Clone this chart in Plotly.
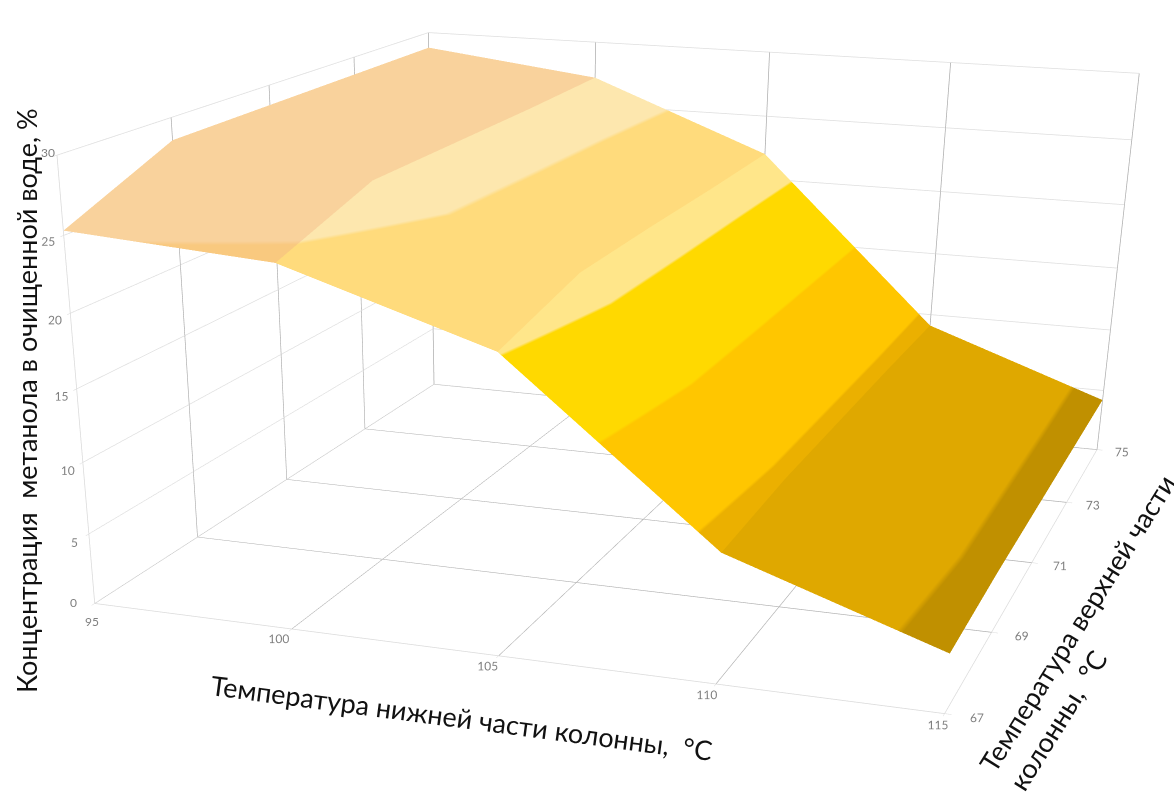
import plotly.graph_objects as go

# Column bottom temperature (x), column top temperature (y), methanol concentration (z)
bottom_temp = [95, 100, 105, 110, 115]
top_temp = [67, 69, 71, 73, 75]
row_67 = [25.3, 24.4, 20.1, 8.8, 4.0]
row_69 = [28.5, 26.8, 21.8, 9.2, 4.2]
row_71 = [28.6, 26.9, 21.9, 9.2, 4.2]
row_73 = [28.7, 27.0, 21.9, 9.2, 4.2]
row_75 = [28.8, 27.2, 22.0, 9.1, 4.2]
methanol = [row_67, row_69, row_71, row_73, row_75]
z_ticks = [0, 5, 10, 15, 20, 25, 30]
# Labels near the front corner and the axis title are placed by hand, so the axes leave them blank
bottom_labels = ["", "100", "105", "110", "115"]
z_labels = ["", "5", "10", "15", "20", "25", ""]

# Shaded band colours, low to high, for each strip of the surface between two bottom temperatures
strip_95_100 = ["#BF9000", "#DFA800", "#FFC000", "#FFD700", "#F9C97F", "#F9D29C"]
strip_100_105 = ["#BF9000", "#DFA800", "#FFC000", "#FFC800", "#FFDB7C", "#FDE7AE"]
strip_105_110 = ["#BF9000", "#EBB000", "#FFC600", "#FFD900", "#FFE68A", "#FDE7AE"]
strip_110_115 = ["#C09000", "#DFA800", "#FFC000", "#FFD700", "#FFDB7C", "#F9D29C"]
strip_colors = [strip_95_100, strip_100_105, strip_105_110, strip_110_115]

PAGE_W, PAGE_H = 1174, 2093  # tall canvas keeps the long lens of the view; only the top is on screen
SCENE_W = 1144


def stepped(colors):
    """One flat colour per 5-unit band of the value axis."""
    scale = []
    for i, color in enumerate(colors):
        scale.append([i / len(colors), color])
        scale.append([(i + 1) / len(colors), color])
    return scale


fig = go.Figure()
for i, colors in enumerate(strip_colors):
    fig.add_trace(go.Surface(
        x=bottom_temp[i:i + 2], y=top_temp, z=[row[i:i + 2] for row in methanol],
        cmin=0, cmax=30, colorscale=stepped(colors), showscale=False,
        lighting=dict(ambient=1, diffuse=0, specular=0, roughness=1, fresnel=0),
        hoverinfo="x+y+z",
    ))


def axis(grid, **kw):
    base = dict(
        title=dict(text=""), showbackground=False, showgrid=True, gridcolor=grid, gridwidth=1.5,
        showline=True, linecolor="#D9D9D9", linewidth=1.5, zeroline=False, showspikes=False,
        tickfont=dict(family="Lato", size=12, color="#7F7F7F"), tickangle=0,
        ticks="outside", ticklen=5, tickcolor="#D9D9D9",
    )
    base.update(kw)
    return base


eye = dict(x=0.86, y=-2.823, z=0.6768)
forward = (-0.277, 0.8302, -0.4837)
reach = 2.9

fig.update_layout(
    width=PAGE_W, height=PAGE_H, margin=dict(l=0, r=0, t=0, b=0), autosize=False,
    paper_bgcolor="white",
    scene=dict(
        domain=dict(x=[0, SCENE_W / PAGE_W], y=[0, 1]),
        xaxis=axis("#ADADAD", tickvals=bottom_temp, ticktext=bottom_labels, range=[95, 115]),
        yaxis=axis("#ADADAD", tickvals=top_temp, range=[67, 75]),
        zaxis=axis("#DEDEDE", tickvals=z_ticks, ticktext=z_labels, range=[0, 30]),
        aspectmode="manual", aspectratio=dict(x=0.9318, y=1.0, z=0.4641),
        camera=dict(
            eye=eye,
            center=dict(x=eye["x"] + reach * forward[0], y=eye["y"] + reach * forward[1],
                        z=eye["z"] + reach * forward[2]),
            up=dict(x=-0.1645, y=0.455, z=0.8751),
        ),
    ),
)

# text, x and y in pixels from the top-left corner, rotation, alignment, size, colour
page_text = [
    ("Концентрация  метанола в очищенной воде, %", 26, 401, -90, "center", 27, "#111111"),
    ("Температура нижней части колонны,  °C", 462, 717, 7.5, "center", 27, "#111111"),
    ("Температура верхней части<br>колонны,  °C", 1092, 632, -58, "left", 27, "#111111"),
    ("95", 92, 622, 0, "center", 12, "#7F7F7F"),
    ("0", 73, 602, 0, "center", 12, "#7F7F7F"),
    ("30", 48, 153, 0, "center", 12, "#7F7F7F"),
]
for text, px, py, angle, align, size, color in page_text:
    fig.add_annotation(text=text, x=px / PAGE_W, y=1 - py / PAGE_H, xref="paper", yref="paper",
                       xanchor="center", yanchor="middle",
                       textangle=angle, align=align, showarrow=False,
                       font=dict(family="Lato", size=size, color=color))

fig.write_html("out.html")
